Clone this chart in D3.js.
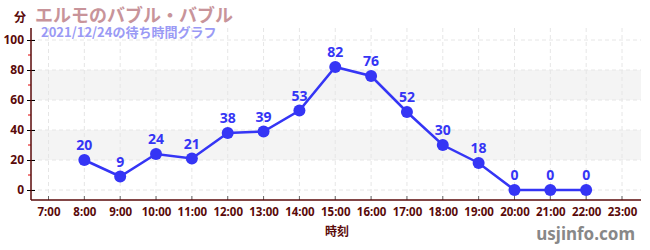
<!DOCTYPE html>
<html><head><meta charset="utf-8">
<script src="https://cdn.jsdelivr.net/npm/d3@7"></script>
<style>body{margin:0;background:#fff;}svg{display:block;font-family:"Noto Sans CJK JP","Noto Sans",sans-serif;}</style>
</head><body>
<script>
const hours = [8,9,10,11,12,13,14,15,16,17,18,19,20,21,22];
const waits = [20,9,24,21,38,39,53,82,76,52,30,18,0,0,0];
const xTicks = d3.range(7,24);
const yTicks = [0,20,40,60,80,100];
const bands = [[20,40],[60,80]];
const title = "エルモのバブル・バブル";
const subtitle = "2021/12/24の待ち時間グラフ";

const W=650,H=250;
const svg=d3.select("body").append("svg").attr("width",W).attr("height",H);
const x=d3.scaleLinear().domain([7,23]).range([48.5,622]);
const y=d3.scaleLinear().domain([0,100]).range([190,40]);
const axisColor="#5a0a0a";
const L=31,R=641,B=200,T=28;

// bands
svg.selectAll("rect.band").data(bands).join("rect")
 .attr("x",L).attr("width",R-L).attr("y",d=>y(d[1])).attr("height",d=>y(d[0])-y(d[1]))
 .attr("fill","#f4f4f4");
// grid
svg.selectAll("line.vg").data(xTicks).join("line")
 .attr("x1",d=>x(d)).attr("x2",d=>x(d)).attr("y1",T).attr("y2",B)
 .attr("stroke","#e6e6e6").attr("stroke-dasharray","4,3");
svg.selectAll("line.hg").data(yTicks).join("line")
 .attr("x1",L).attr("x2",R).attr("y1",d=>y(d)).attr("y2",d=>y(d))
 .attr("stroke","#e6e6e6").attr("stroke-dasharray","4,3");

// y axis
const ya=svg.append("g").attr("transform",`translate(${L},0)`)
 .call(d3.axisLeft(y).tickValues(yTicks).tickSize(4).tickPadding(3));
ya.select(".domain").remove();
ya.selectAll(".tick line").attr("stroke","#000").attr("x2",4).attr("x1",-4);
ya.selectAll("text").attr("fill",axisColor).attr("font-size",12).attr("font-weight","bold").attr("font-family","'Noto Sans',sans-serif");
svg.selectAll("line.minor").data([10,30,50,70,90]).join("line")
 .attr("x1",L-3).attr("x2",L).attr("y1",d=>y(d)).attr("y2",d=>y(d)).attr("stroke","#e00000");
svg.append("line").attr("x1",L).attr("x2",L).attr("y1",T).attr("y2",B).attr("stroke",axisColor).attr("stroke-width",1.5);

// x axis
const xa=svg.append("g").attr("transform",`translate(0,${B})`)
 .call(d3.axisBottom(x).tickValues(xTicks).tickFormat(d=>d+":00").tickSize(0).tickPadding(8));
xa.select(".domain").remove();
xa.selectAll("text").attr("fill",axisColor).attr("font-size",11.5).attr("font-weight","bold").attr("font-family","'Noto Sans',sans-serif");
svg.selectAll("line.xt").data(xTicks).join("line")
 .attr("x1",d=>x(d)).attr("x2",d=>x(d)).attr("y1",B-4).attr("y2",B).attr("stroke","#666");
svg.append("line").attr("x1",L).attr("x2",R).attr("y1",B).attr("y2",B).attr("stroke",axisColor).attr("stroke-width",1.5);

// line
const data=hours.map((h,i)=>({h,v:waits[i]}));
svg.append("path").datum(data).attr("fill","none").attr("stroke","#3535f5").attr("stroke-width",2.5)
 .attr("d",d3.line().x(d=>x(d.h)).y(d=>y(d.v)));
svg.selectAll("circle.pt").data(data).join("circle")
 .attr("cx",d=>x(d.h)).attr("cy",d=>y(d.v)).attr("r",6).attr("fill","#3535f5");
svg.selectAll("text.lbl").data(data).join("text")
 .attr("x",d=>x(d.h)).attr("y",d=>y(d.v)-10).attr("text-anchor","middle")
 .attr("fill","#3535f5").attr("font-size",14).attr("font-weight","bold").attr("font-family","'Noto Sans',sans-serif")
 .text(d=>d.v);

// titles
svg.append("text").attr("x",14).attr("y",22).attr("fill","#5a0a0a").attr("font-size",12).attr("font-weight","bold").text("分");
svg.append("text").attr("x",35).attr("y",22).attr("fill","#c8949a").attr("font-size",18).attr("font-weight","bold").text(title);
svg.append("text").attr("x",41).attr("y",37).attr("fill","#9a9af5").attr("font-size",13).attr("font-weight","bold").text(subtitle);
svg.append("text").attr("x",337).attr("y",236).attr("text-anchor","middle").attr("fill","#5a0a0a").attr("font-size",12).attr("font-weight","bold").text("時刻");
svg.append("text").attr("x",635).attr("y",240).attr("text-anchor","end").attr("fill","#888").attr("font-size",17).attr("font-weight","bold").attr("font-family","'Noto Sans',sans-serif").text("usjinfo.com");
</script>
</body></html>
